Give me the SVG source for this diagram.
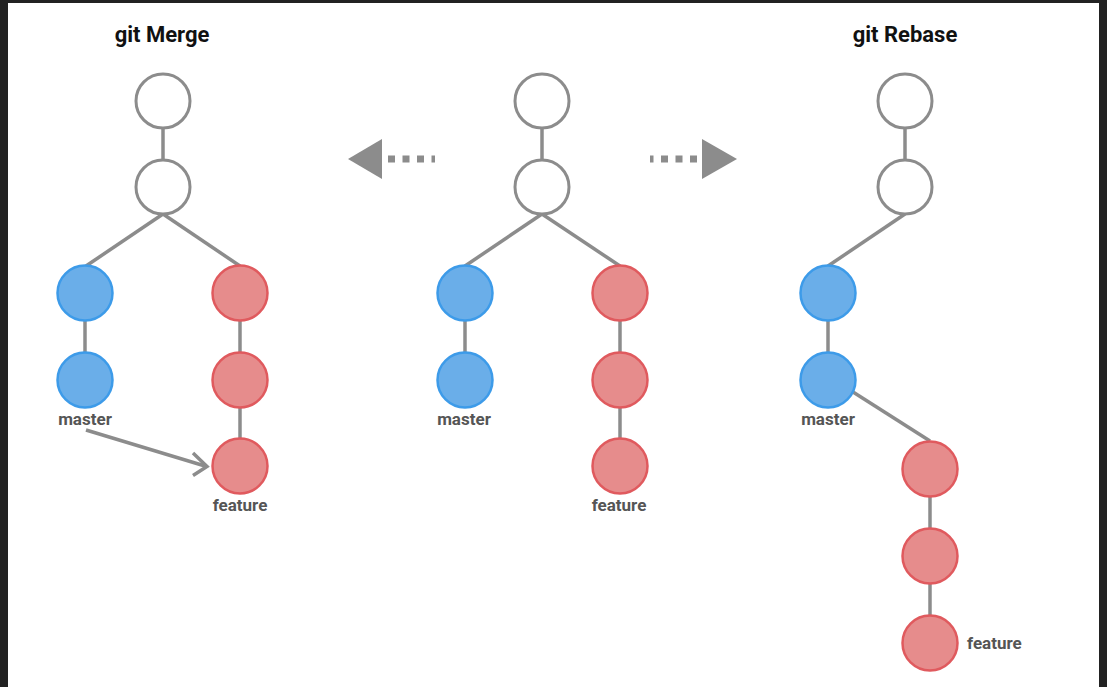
<svg xmlns="http://www.w3.org/2000/svg" width="1107" height="687" viewBox="0 0 1107 687">
<defs>
<style>
.frame{fill:#222222}
.edge{stroke:#8c8c8c;stroke-width:3.5;fill:none}
.w{fill:#ffffff;stroke:#8c8c8c;stroke-width:3}
.b{fill:#6aaee9;stroke:#3d9be9;stroke-width:2.5}
.r{fill:#e68c8c;stroke:#e05a5e;stroke-width:2.5}
.title{font-family:Roboto,"Liberation Sans",sans-serif;font-weight:bold;font-size:22px;fill:#111111;text-anchor:middle}
.lbl{font-family:Roboto,"Liberation Sans",sans-serif;font-weight:bold;font-size:17px;fill:#555555;text-anchor:middle}
.dash{stroke:#8c8c8c;stroke-width:7;stroke-dasharray:7 7.5;fill:none}
.tri{fill:#8c8c8c}
</style>
</defs>
<rect width="1107" height="687" fill="#ffffff"/>
<rect class="frame" x="0" y="0" width="1107" height="3"/>
<rect class="frame" x="0" y="0" width="8" height="687"/>
<rect class="frame" x="1099" y="0" width="8" height="687"/>

<g id="connectors">
<line class="edge" x1="163" y1="128" x2="163" y2="160"/>
<line class="edge" x1="163" y1="214" x2="86" y2="266"/>
<line class="edge" x1="163" y1="214" x2="240" y2="266"/>
<line class="edge" x1="85" y1="320" x2="85" y2="352"/>
<line class="edge" x1="240" y1="320" x2="240" y2="352"/>
<line class="edge" x1="240" y1="407" x2="240" y2="439"/>
<line class="edge" x1="86" y1="430" x2="205" y2="466"/>
<polyline class="edge" points="193,453 207,466.5 193,475.5" stroke-linejoin="miter"/>

<line class="edge" x1="542" y1="128" x2="542" y2="160"/>
<line class="edge" x1="542" y1="214" x2="465" y2="266"/>
<line class="edge" x1="542" y1="214" x2="620" y2="266"/>
<line class="edge" x1="465" y1="320" x2="465" y2="352"/>
<line class="edge" x1="620" y1="320" x2="620" y2="352"/>
<line class="edge" x1="620" y1="407" x2="620" y2="439"/>

<line class="edge" x1="905" y1="128" x2="905" y2="160"/>
<line class="edge" x1="905" y1="214" x2="828" y2="266"/>
<line class="edge" x1="828" y1="320" x2="828" y2="352"/>
<line class="edge" x1="853" y1="392" x2="930" y2="441"/>
<line class="edge" x1="930" y1="496" x2="930" y2="528"/>
<line class="edge" x1="930" y1="583" x2="930" y2="616"/>

<line class="dash" x1="388" y1="159" x2="435" y2="159"/>
<polygon class="tri" points="348,159 382,139 382,179"/>
<line class="dash" x1="697" y1="159" x2="650" y2="159" />
<polygon class="tri" points="737,159 702,139 702,179"/>
</g>

<g id="title-merge"><text class="title" x="162" y="42">git Merge</text></g>
<g id="title-rebase"><text class="title" x="905" y="42">git Rebase</text></g>

<g id="merge-c1"><circle class="w" cx="163" cy="101" r="27"/></g>
<g id="merge-c2"><circle class="w" cx="163" cy="187" r="27"/></g>
<g id="merge-m1"><circle class="b" cx="85" cy="293" r="27.5"/></g>
<g id="merge-m2"><circle class="b" cx="85" cy="380" r="27.5"/><text class="lbl" x="85" y="425">master</text></g>
<g id="merge-f1"><circle class="r" cx="240" cy="293" r="27.5"/></g>
<g id="merge-f2"><circle class="r" cx="240" cy="380" r="27.5"/></g>
<g id="merge-f3"><circle class="r" cx="240" cy="466" r="27.5"/><text class="lbl" x="240" y="511">feature</text></g>

<g id="mid-c1"><circle class="w" cx="542" cy="101" r="27"/></g>
<g id="mid-c2"><circle class="w" cx="542" cy="187" r="27"/></g>
<g id="mid-m1"><circle class="b" cx="465" cy="293" r="27.5"/></g>
<g id="mid-m2"><circle class="b" cx="465" cy="380" r="27.5"/><text class="lbl" x="464" y="425">master</text></g>
<g id="mid-f1"><circle class="r" cx="620" cy="293" r="27.5"/></g>
<g id="mid-f2"><circle class="r" cx="620" cy="380" r="27.5"/></g>
<g id="mid-f3"><circle class="r" cx="620" cy="466" r="27.5"/><text class="lbl" x="619" y="511">feature</text></g>

<g id="reb-c1"><circle class="w" cx="905" cy="101" r="27"/></g>
<g id="reb-c2"><circle class="w" cx="905" cy="187" r="27"/></g>
<g id="reb-m1"><circle class="b" cx="828" cy="293" r="27.5"/></g>
<g id="reb-m2"><circle class="b" cx="828" cy="380" r="27.5"/><text class="lbl" x="828" y="425">master</text></g>
<g id="reb-f1"><circle class="r" cx="930" cy="469" r="27.5"/></g>
<g id="reb-f2"><circle class="r" cx="930" cy="556" r="27.5"/></g>
<g id="reb-f3"><circle class="r" cx="930" cy="643" r="27.5"/><text class="lbl" x="967" y="649" style="text-anchor:start">feature</text></g>
</svg>
